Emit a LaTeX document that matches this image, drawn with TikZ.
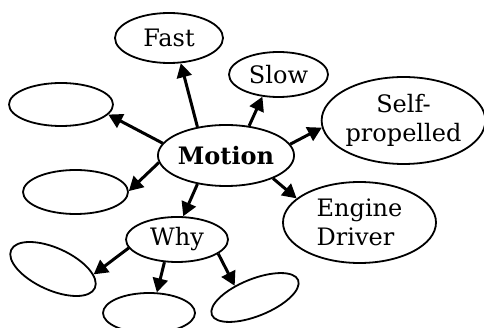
\documentclass[tikz,border=0pt]{standalone}
\usepackage{fontspec}
\setmainfont{DejaVu Serif}
\usetikzlibrary{shapes.geometric,arrows.meta}

\begin{document}
\begin{tikzpicture}[x=1pt,y=-1pt,
    bubble/.style={draw,ellipse,line width=1.8pt,inner sep=0pt,
      font=\fontsize{24}{28.5}\selectfont},
    link/.style={line width=3pt,-{Triangle[length=14pt,width=15pt]}}]
  \useasboundingbox (0,0) rectangle (484,328);
  % hub and first ring
  \node[bubble,minimum width=136pt,minimum height=61pt] (motion) at (226,155.5) {\textbf{Motion}};
  \node[bubble,minimum width=108pt,minimum height=50pt] (fast) at (169,38) {Fast};
  \node[bubble,minimum width=99pt,minimum height=45pt] (slow) at (278.5,74.5) {Slow};
  \node[bubble,minimum width=157pt,minimum height=87pt,align=center] (self) at (403.5,120.5) {Self-\\propelled};
  \node[bubble,minimum width=153pt,minimum height=81pt,align=left] (engine) at (359.5,222.5) {Engine\\Driver};
  \node[bubble,minimum width=104pt,minimum height=43pt] (blanktop) at (61,104.5) {};
  \node[bubble,minimum width=105pt,minimum height=44pt] (blankmid) at (75.5,192) {};
  \node[bubble,minimum width=102pt,minimum height=45pt] (why) at (177,239.5) {Why};
  % second ring under Why
  \node[bubble,minimum width=92pt,minimum height=42pt,rotate=-24.5] (whyleft) at (53,269) {};
  \node[bubble,minimum width=92pt,minimum height=40pt] (whydown) at (149,313) {};
  \node[bubble,minimum width=93pt,minimum height=37pt,rotate=22] (whyright) at (255,297.5) {};
  \draw[link] (motion.135) -- (fast.295);
  \draw[link] (motion.169) -- (blanktop.348);
  \draw[link] (motion.52) -- (slow.234);
  \draw[link] (motion.10) -- (self.185);
  \draw[link] (motion.334) -- (engine.159);
  \draw[link] (motion.186) -- (blankmid.1);
  \draw[link] (motion.225) -- (why.75);
  \draw[link] (why.190) -- (whyleft.17);
  \draw[link] (why.241) -- (whydown.69);
  \draw[link] (why.341) -- (whyright.128);
\end{tikzpicture}
\end{document}
